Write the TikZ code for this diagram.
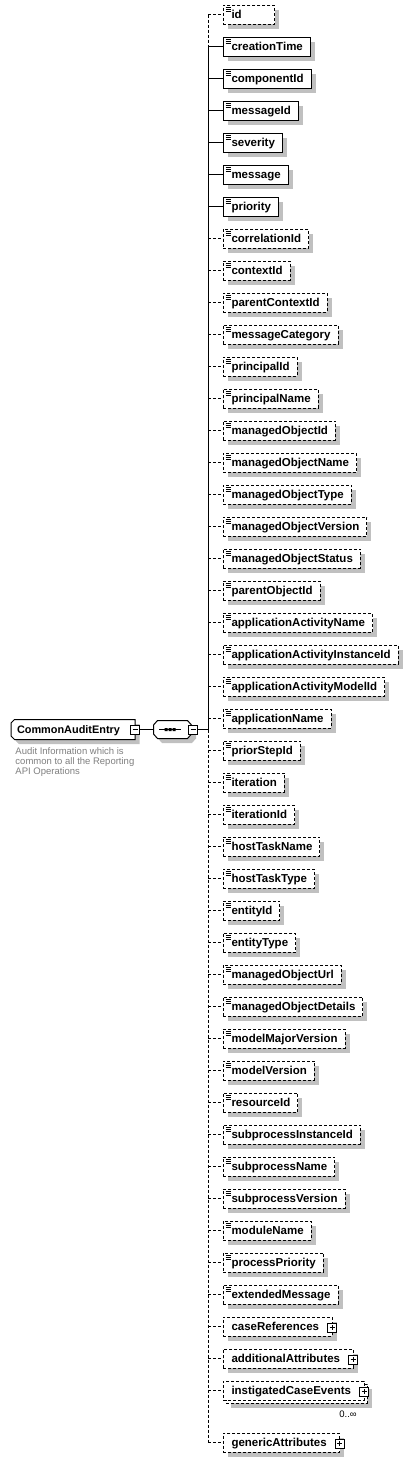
\documentclass[tikz,border=0pt]{standalone}
\usepackage{fontspec}
\usetikzlibrary{shadows,calc}
\newfontfamily\xsans{Liberation Sans}
\definecolor{shadowgray}{RGB}{192,192,192}
\definecolor{descgray}{RGB}{128,128,128}
\newcommand\elfont{\xsans\bfseries\fontsize{11.5}{13}\selectfont}
\newcommand\rootfont{\xsans\bfseries\fontsize{10.9}{13}\selectfont}
\newcommand\dscfont{\xsans\fontsize{9.5}{10}\selectfont}
\begin{document}
\begin{tikzpicture}[x=1pt,y=-1pt,line width=1pt,
  box/.style={draw, fill=white, line width=1pt, inner xsep=0pt, inner ysep=0pt, outer sep=0pt,
    minimum height=19pt, anchor=west, font=\elfont, text height=9.5pt, text depth=1.5pt},
  shd/.style={drop shadow={shadow xshift=4.5pt, shadow yshift=-4.5pt, fill=shadowgray, opacity=1}},
  dsh/.style={dash pattern=on 3pt off 2pt},
  icon/.style={path picture={\draw[solid,line width=1pt]
      ([xshift=2.5pt,yshift=-2.5pt]path picture bounding box.north west) -- ++(5pt,0pt)
      ([xshift=2.5pt,yshift=-4.5pt]path picture bounding box.north west) -- ++(5pt,0pt)
      ([xshift=2.5pt,yshift=-6.5pt]path picture bounding box.north west) -- ++(5pt,0pt);}},
  req/.style={box, shd, icon},
  opt/.style={box, shd, icon, dsh},
  cpx/.style={box, shd, dsh},
  reqc/.style={solid},
  optc/.style={dsh},
  sym/.style={draw, solid, fill=white, minimum size=9pt, inner sep=0pt, outer sep=0pt, line width=1pt},
  minus/.style={sym, path picture={\draw[line width=1pt]
      ([xshift=2pt]path picture bounding box.west) -- ([xshift=-2pt]path picture bounding box.east);}},
  plus/.style={sym, path picture={\draw[line width=1pt]
      ([xshift=2pt]path picture bounding box.west) -- ([xshift=-2pt]path picture bounding box.east)
      ([yshift=-2pt]path picture bounding box.north) -- ([yshift=2pt]path picture bounding box.south);}}
]
\useasboundingbox[fill=white] (0,0) rectangle (409,1462);

% root element
\path[draw, fill=white, shd] (11,723) -- (14.5,719.5) -- (135,719.5) -- (135,739.5) -- (14.5,739.5) -- (11,736) -- cycle;
\node[anchor=west, inner sep=0pt, font=\rootfont, text height=9.5pt, text depth=1.5pt] (root) at (16.5,729.5) {CommonAuditEntry};
\node[minus] (rootm) at (135,729.5) {};
\node[anchor=north west, inner sep=0pt, align=left, font=\dscfont, text=descgray] (desc) at (15,747.5)
  {Audit Information which is\\common to all the Reporting\\API Operations};

% sequence compositor
\path[draw, fill=white, shd] (153.5,725) -- (157.5,720.5) -- (187.5,720.5) -- (191.5,725) -- (191.5,734) -- (187.5,738.5) -- (157.5,738.5) -- (153.5,734) -- cycle;
\node[inner sep=0pt, outer sep=0pt, minimum width=38pt, minimum height=18pt] (seq) at (172.5,729.5) {};
\draw (159,729.5) -- (181,729.5);
\fill (164.5,728) rectangle (167.5,731) (168.5,728) rectangle (171.5,731) (172.5,728) rectangle (175.5,731);
\node[minus] (seqm) at (193,729.5) {};
\draw (rootm.east) -- (seq.west);
\coordinate (sc) at (208,729.5);
\draw (seqm.east) -- (sc);

% children
\coordinate (s0) at (208,14.5);
\node[opt] (c0) at (223,14.5) {\hspace*{8.5pt}id\hspace*{33pt}};
\draw[optc] (s0) -- (c0);
\foreach \i/\t/\st/\cs in {
  1/creationTime/req/reqc, 2/componentId/req/reqc, 3/messageId/req/reqc, 4/severity/req/reqc,
  5/message/req/reqc, 6/priority/req/reqc, 7/correlationId/opt/optc, 8/contextId/opt/optc,
  9/parentContextId/opt/optc, 10/messageCategory/opt/optc, 11/principalId/opt/optc,
  12/principalName/opt/optc, 13/managedObjectId/opt/optc, 14/managedObjectName/opt/optc,
  15/managedObjectType/opt/optc, 16/managedObjectVersion/opt/optc, 17/managedObjectStatus/opt/optc,
  18/parentObjectId/opt/optc, 19/applicationActivityName/opt/optc,
  20/applicationActivityInstanceId/opt/optc, 21/applicationActivityModelId/opt/optc,
  22/applicationName/opt/optc, 23/priorStepId/opt/optc, 24/iteration/opt/optc,
  25/iterationId/opt/optc, 26/hostTaskName/opt/optc, 27/hostTaskType/opt/optc,
  28/entityId/opt/optc, 29/entityType/opt/optc, 30/managedObjectUrl/opt/optc,
  31/managedObjectDetails/opt/optc, 32/modelMajorVersion/opt/optc, 33/modelVersion/opt/optc,
  34/resourceId/opt/optc, 35/subprocessInstanceId/opt/optc, 36/subprocessName/opt/optc,
  37/subprocessVersion/opt/optc, 38/moduleName/opt/optc, 39/processPriority/opt/optc,
  40/extendedMessage/opt/optc}{
  \coordinate (s\i) at (208,{14.5+32*\i});
  \node[\st] (c\i) at (223,{14.5+32*\i}) {\hspace*{8.5pt}\t\hspace*{7.5pt}};
  \draw[\cs] (s\i) -- (c\i);
}

% complex children
\coordinate (s41) at (208,1326.5);
\node[cpx] (c41) at (223,1326.5) {\hspace*{8.5pt}caseReferences\hspace*{13pt}};
\node[plus] (p41) at ([yshift=-1pt]c41.east) {};
\draw[optc] (s41) -- (c41);

\coordinate (s42) at (208,1358.5);
\node[cpx] (c42) at (223,1358.5) {\hspace*{8.5pt}additionalAttributes\hspace*{13pt}};
\node[plus] (p42) at ([yshift=-1pt]c42.east) {};
\draw[optc] (s42) -- (c42);

\coordinate (s43) at (208,1390.5);
\node[cpx] (c43b) at (226,1393.5) {\hspace*{8.5pt}\phantom{instigatedCaseEvents}\hspace*{13pt}};
\node[box, dsh] (c43) at (223,1390.5) {\hspace*{8.5pt}instigatedCaseEvents\hspace*{13pt}};
\node[plus] (p43) at ([yshift=-1pt]c43.east) {};
\draw[optc] (s43) -- (c43);
\node[inner sep=0pt, font=\dscfont] (card43) at (348,1414) {0..∞};

\coordinate (s44) at (208,1442.5);
\node[cpx] (c44) at (223,1442.5) {\hspace*{8.5pt}genericAttributes\hspace*{13pt}};
\node[plus] (p44) at ([yshift=-1pt]c44.east) {};
\draw[optc] (s44) -- (c44);

% spine
\draw[dsh] (s0) -- (s44);
\draw (s1) -- (sc);
\end{tikzpicture}
\end{document}
